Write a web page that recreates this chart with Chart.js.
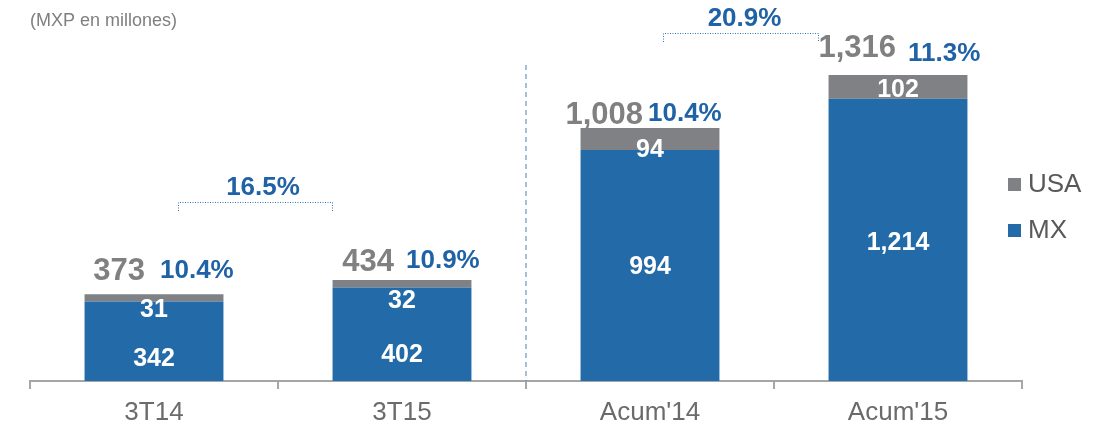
<!DOCTYPE html>
<html>
<head>
<meta charset="utf-8">
<script src="https://cdn.jsdelivr.net/npm/chart.js@4/dist/chart.umd.min.js"></script>
<style>
  html, body { margin: 0; padding: 0; background: #fff; }
  #wrap { position: relative; width: 1107px; height: 429px; }
</style>
</head>
<body>
<div id="wrap"><canvas id="chart" width="1107" height="429"></canvas></div>
<script>
// datos del gráfico
const categories = ['3T14', '3T15', "Acum'14", "Acum'15"];
const mxValues = [342, 402, 994, 1214];
const usaValues = [31, 32, 94, 102];
const totalLabels = ['373', '434', '1,008', '1,316'];
const marginLabels = ['10.4%', '10.9%', '10.4%', '11.3%'];
const growthLabels = ['16.5%', '20.9%'];

const BLUE = '#236aa8';
const GRAY = '#7f8184';
const TEXT_GRAY = '#808080';
const PCT_BLUE = '#1f62a6';
const FONT = '"Liberation Sans", Arial, sans-serif';

// ajustes finos de las etiquetas (px)
const mxShift = [18, 21, 2, 3];
const usaShift = [16, 21, 22, 15];
const totalLift = [23, 18, 13, 27];
const pctLift = [23, 19, 14, 21];
const totalDx = [-9, -8, -7, -2];
const pctDx = [6, 4, -2, 10];
const growthDx = [8, 4];

const annotations = {
    id: 'annotations',
    afterDatasetsDraw(chart) {
        const ctx = chart.ctx;
        const mx = chart.getDatasetMeta(0).data;
        const usa = chart.getDatasetMeta(1).data;
        const area = chart.chartArea;
        ctx.save();
        ctx.textBaseline = 'middle';

        // etiquetas dentro de las barras
        ctx.fillStyle = '#fff';
        ctx.textAlign = 'center';
        ctx.font = 'bold 25px ' + FONT;
        mx.forEach((b, i) => {
            const y = (b.y + b.base) / 2 + mxShift[i];
            ctx.fillText(mxValues[i].toLocaleString('en-US'), b.x, y);
        });
        usa.forEach((b, i) => {
            ctx.fillText(usaValues[i].toLocaleString('en-US'), b.x, b.y + usaShift[i]);
        });

        // totales y márgenes
        usa.forEach((b, i) => {
            ctx.textAlign = 'right';
            ctx.fillStyle = TEXT_GRAY;
            ctx.font = 'bold 31px ' + FONT;
            ctx.fillText(totalLabels[i], b.x + totalDx[i], b.y - totalLift[i]);
            ctx.textAlign = 'left';
            ctx.fillStyle = PCT_BLUE;
            ctx.font = 'bold 26px ' + FONT;
            ctx.fillText(marginLabels[i], b.x + pctDx[i], b.y - pctLift[i]);
        });

        // corchetes de crecimiento
        const brackets = [
            { x1: usa[0].x + 24, x2: usa[1].x - 70, y: 202 },
            { x1: usa[2].x + 13, x2: usa[3].x - 80, y: 33 }
        ];
        ctx.strokeStyle = '#2e75b6';
        ctx.lineWidth = 1;
        ctx.setLineDash([1, 1.5]);
        brackets.forEach((br, i) => {
            ctx.beginPath();
            ctx.moveTo(br.x1 + 0.5, br.y + 9);
            ctx.lineTo(br.x1 + 0.5, br.y + 0.5);
            ctx.lineTo(br.x2 + 0.5, br.y + 0.5);
            ctx.lineTo(br.x2 + 0.5, br.y + 9);
            ctx.stroke();
            ctx.fillStyle = PCT_BLUE;
            ctx.textAlign = 'center';
            ctx.font = 'bold 26px ' + FONT;
            ctx.fillText(growthLabels[i], (br.x1 + br.x2) / 2 + growthDx[i], br.y - 14);
        });

        // línea divisoria punteada
        const xs = chart.scales.x;
        const xDiv = (xs.getPixelForValue(1) + xs.getPixelForValue(2)) / 2;
        ctx.setLineDash([5, 4]);
        ctx.strokeStyle = '#4a80b8';
        ctx.beginPath();
        ctx.moveTo(xDiv, 65);
        ctx.lineTo(xDiv, area.bottom);
        ctx.stroke();
        ctx.setLineDash([]);

        // leyenda
        ctx.font = '26px ' + FONT;
        ctx.textAlign = 'left';
        [['USA', GRAY, 185], ['MX', BLUE, 231]].forEach(([t, c, y]) => {
            ctx.fillStyle = c;
            ctx.fillRect(1008, y - 7, 13, 13);
            ctx.fillStyle = '#595959';
            ctx.fillText(t, 1028, y);
        });

        // subtítulo
        ctx.font = '18px ' + FONT;
        ctx.fillStyle = '#7f7f7f';
        ctx.fillText('(MXP en millones)', 30, 21);
        ctx.restore();
    }
};

new Chart(document.getElementById('chart'), {
    type: 'bar',
    data: {
        labels: categories,
        datasets: [
            { label: 'MX', data: mxValues, backgroundColor: BLUE },
            { label: 'USA', data: usaValues, backgroundColor: GRAY }
        ]
    },
    options: {
        responsive: false,
        animation: false,
        layout: { padding: { top: 9, left: 30, right: 85, bottom: 0 } },
        plugins: {
            legend: { display: false },
            tooltip: { enabled: false }
        },
        datasets: { bar: { barPercentage: 0.56, categoryPercentage: 1 } },
        scales: {
            x: {
                stacked: true,
                border: { display: true, color: '#a6a6a6', width: 2 },
                grid: { display: true, drawOnChartArea: false, drawTicks: true, tickLength: 8, color: '#a6a6a6', lineWidth: 2, offset: true },
                ticks: { color: '#6b6b6b', font: { family: FONT, size: 26 }, padding: 8 },
                afterFit(scale) { scale.height = 48; }
            },
            y: {
                stacked: true,
                display: false,
                min: 0,
                max: 1600
            }
        }
    },
    plugins: [annotations]
});
</script>
</body>
</html>
